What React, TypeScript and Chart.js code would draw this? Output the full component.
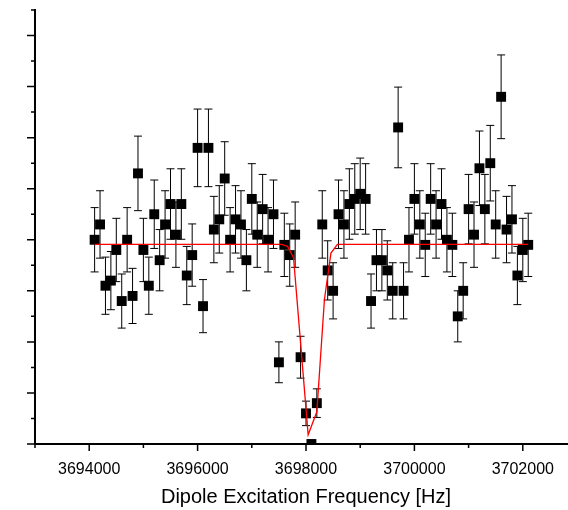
import React, { useEffect, useRef } from "react";
import { Chart, registerables } from "chart.js";

Chart.register(...registerables);

// Excitation frequencies [Hz]
const frequencies = [
  3694100, 3694200, 3694300, 3694400, 3694500, 3694600, 3694700, 3694800, 3694900, 3695000,
  3695100, 3695200, 3695300, 3695400, 3695500, 3695600, 3695700, 3695800, 3695900, 3696000,
  3696100, 3696200, 3696300, 3696400, 3696500, 3696600, 3696700, 3696800, 3696900, 3697000,
  3697100, 3697200, 3697300, 3697400, 3697500, 3697600, 3697700, 3697800, 3697900, 3698000,
  3698100, 3698200, 3698300, 3698400, 3698500, 3698600, 3698700, 3698800, 3698900, 3699000,
  3699100, 3699200, 3699300, 3699400, 3699500, 3699600, 3699700, 3699800, 3699900, 3700000,
  3700100, 3700200, 3700300, 3700400, 3700500, 3700600, 3700700, 3700800, 3700900, 3701000,
  3701100, 3701200, 3701300, 3701400, 3701500, 3701600, 3701700, 3701800, 3701900, 3702000,
  3702100,
];

// Measured counts
const counts = [
  40, 43, 31, 32, 38, 28, 40, 29, 53, 38,
  31, 45, 36, 43, 47, 41, 47, 33, 37, 58,
  27, 58, 42, 44, 52, 40, 44, 43, 36, 48,
  41, 46, 40, 45, 16, 39, 37, 41, 17, 6,
  0, 8, 43, 34, 30, 45, 43, 47, 48, 49,
  48, 28, 36, 36, 34, 30, 62, 30, 40, 48,
  43, 39, 48, 43, 47, 40, 39, 25, 30, 46,
  41, 54, 46, 55, 43, 68, 42, 44, 33, 38,
  39,
];

// Error bar half-lengths
const errors = [
  6.3, 6.6, 5.6, 5.7, 6.2, 5.3, 6.3, 5.4, 7.3, 6.2,
  5.6, 6.7, 6.0, 6.6, 6.9, 6.4, 6.9, 5.7, 6.1, 7.6,
  5.2, 7.6, 6.5, 6.6, 7.2, 6.3, 6.6, 6.6, 6.0, 6.9,
  6.4, 6.8, 6.3, 6.7, 4.0, 6.2, 6.1, 6.4, 4.1, 2.4,
  0, 2.8, 6.6, 5.8, 5.5, 6.7, 6.6, 6.9, 6.9, 7.0,
  6.9, 5.3, 6.0, 6.0, 5.8, 5.5, 7.9, 5.5, 6.3, 6.9,
  6.6, 6.2, 6.9, 6.6, 6.9, 6.3, 6.2, 5.0, 5.5, 6.8,
  6.4, 7.3, 6.8, 7.4, 6.6, 8.2, 6.5, 6.6, 5.7, 6.2,
  6.2,
];

// Fit curve (red line)
const fitFrequencies = [3694100, 3697550, 3697660, 3697770, 3698040, 3698200, 3698340, 3698460, 3698580, 3702100];
const fitCounts = [39.1, 39.1, 38.7, 36.5, 1.8, 6.3, 28.3, 37.4, 39.1, 39.1];

// Axis ticks
const xTicks = [3693000, 3694000, 3695000, 3696000, 3697000, 3698000, 3699000, 3700000, 3701000, 3702000, 3703000];
const xLabelTicks = [3694000, 3696000, 3698000, 3700000, 3702000];
const yTicks = [0, 5, 10, 15, 20, 25, 30, 35, 40, 45, 50, 55, 60, 65, 70, 75, 80, 85];
const yMajorTicks = [0, 10, 20, 30, 40, 50, 60, 70, 80];

const X_MIN = 3693000;
const X_MAX = 3703000;
const Y_MIN = 0;
const Y_MAX = 85;

const CANVAS_W = 577;
const CANVAS_H = 510;

const FONT = "'Liberation Sans', Arial, sans-serif";

const errorBarPlugin = {
  id: "errorBars",
  beforeDatasetsDraw(chart: any) {
    const { ctx, chartArea, scales } = chart;
    const xs = scales.x;
    const ys = scales.y;
    ctx.save();
    ctx.beginPath();
    ctx.rect(chartArea.left, chartArea.top, chartArea.right - chartArea.left, chartArea.bottom - chartArea.top);
    ctx.clip();
    ctx.strokeStyle = "#000";
    ctx.lineWidth = 1;
    const cap = 4;
    for (let i = 0; i < frequencies.length; i++) {
      if (!errors[i]) continue;
      const x = xs.getPixelForValue(frequencies[i]);
      const yt = ys.getPixelForValue(counts[i] + errors[i]);
      const yb = ys.getPixelForValue(counts[i] - errors[i]);
      ctx.beginPath();
      ctx.moveTo(x, yt);
      ctx.lineTo(x, yb);
      ctx.moveTo(x - cap, yt);
      ctx.lineTo(x + cap, yt);
      ctx.moveTo(x - cap, yb);
      ctx.lineTo(x + cap, yb);
      ctx.stroke();
    }
    ctx.restore();
  },
};

const tickMarkPlugin = {
  id: "tickMarks",
  afterDraw(chart: any) {
    const { ctx, chartArea, scales } = chart;
    const xs = scales.x;
    const ys = scales.y;
    ctx.save();
    ctx.strokeStyle = "#000";
    ctx.lineWidth = 1.5;
    ctx.beginPath();
    for (const v of xTicks) {
      const x = xs.getPixelForValue(v);
      const len = xLabelTicks.includes(v) ? 7 : 4;
      ctx.moveTo(x, chartArea.bottom);
      ctx.lineTo(x, chartArea.bottom + len);
    }
    for (const v of yTicks) {
      const y = ys.getPixelForValue(v);
      const len = yMajorTicks.includes(v) ? 8 : 4;
      ctx.moveTo(chartArea.left, y);
      ctx.lineTo(chartArea.left - len, y);
    }
    ctx.stroke();
    ctx.restore();
  },
};

export default function App() {
  const canvasRef = useRef<HTMLCanvasElement | null>(null);

  useEffect(() => {
    if (!canvasRef.current) return;
    const chart = new Chart(canvasRef.current, {
      type: "line",
      data: {
        datasets: [
          {
            label: "Fit",
            data: fitFrequencies.map((f, i) => ({ x: f, y: fitCounts[i] })),
            borderColor: "#ff0000",
            borderWidth: 1.3,
            pointRadius: 0,
            tension: 0,
            fill: false,
            clip: 0,
          },
          {
            label: "Data",
            data: frequencies.map((f, i) => ({ x: f, y: counts[i] })),
            showLine: false,
            pointStyle: "rect",
            pointRadius: 7,
            pointBackgroundColor: "#000",
            pointBorderWidth: 0,
            borderColor: "#000",
            backgroundColor: "#000",
            clip: 0,
          },
        ],
      },
      options: {
        animation: false,
        responsive: false,
        maintainAspectRatio: false,
        layout: { autoPadding: false, padding: { top: 10, left: 0, right: 0, bottom: 0 } },
        plugins: {
          legend: { display: false },
          tooltip: { enabled: false },
          title: { display: false },
        },
        scales: {
          x: {
            type: "linear",
            min: X_MIN,
            max: X_MAX,
            grid: { display: false, drawTicks: false },
            border: { display: true, color: "#000", width: 2 },
            afterBuildTicks: (scale: any) => {
              scale.ticks = xTicks.map((v) => ({ value: v }));
            },
            afterFit: (scale: any) => {
              scale.height = 66;
              scale.paddingLeft = 0;
              scale.paddingRight = 0;
            },
            ticks: {
              autoSkip: false,
              maxRotation: 0,
              padding: 16,
              color: "#000",
              font: { family: FONT, size: 16 },
              callback: (value: any) => (xLabelTicks.includes(Number(value)) ? String(value) : ""),
            },
            title: {
              display: true,
              text: "Dipole Excitation Frequency [Hz]",
              color: "#000",
              font: { family: FONT, size: 20 },
              padding: { top: 0, bottom: 1 },
            },
          },
          y: {
            type: "linear",
            min: Y_MIN,
            max: Y_MAX,
            grid: { display: false, drawTicks: false },
            border: { display: true, color: "#000", width: 2 },
            afterBuildTicks: (scale: any) => {
              scale.ticks = yTicks.map((v) => ({ value: v }));
            },
            afterFit: (scale: any) => {
              scale.width = 35;
              scale.paddingTop = 0;
              scale.paddingBottom = 0;
            },
            ticks: { display: false },
          },
        },
      },
      plugins: [errorBarPlugin, tickMarkPlugin],
    });
    return () => chart.destroy();
  }, []);

  return (
    <div style={{ position: "absolute", left: 0, top: 0, width: 568, height: 510, overflow: "hidden", background: "#fff" }}>
      <canvas ref={canvasRef} width={CANVAS_W} height={CANVAS_H} style={{ display: "block", width: CANVAS_W, height: CANVAS_H }} />
    </div>
  );
}
